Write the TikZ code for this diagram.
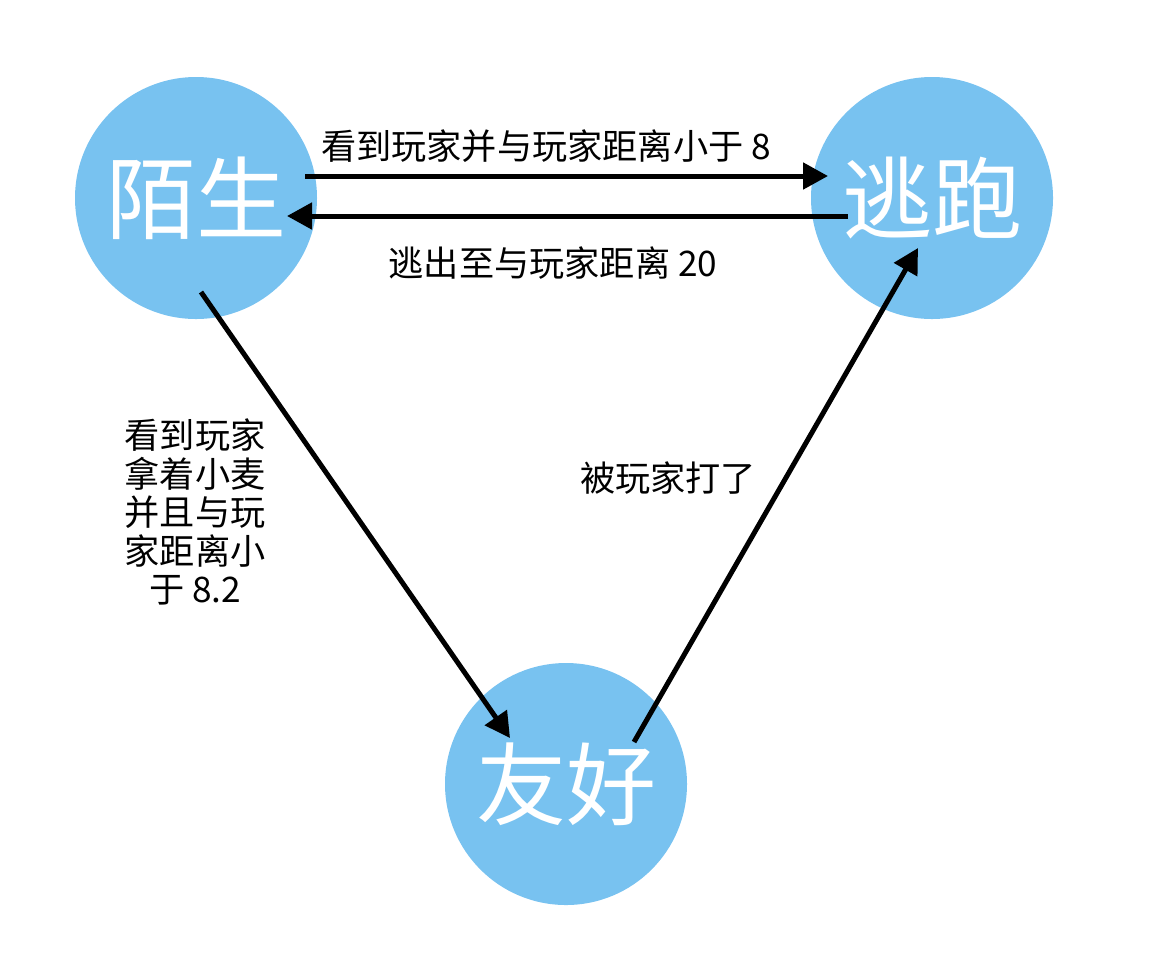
\documentclass[tikz,border=0pt]{standalone}
\usepackage{fontspec}
\setmainfont{Noto Sans CJK SC}
\usetikzlibrary{arrows.meta,calc}
\definecolor{stateblue}{HTML}{78C2F0}
\begin{document}
\begin{tikzpicture}[x=0.5pt,y=-0.5pt,
  state/.style={circle,fill=stateblue,minimum size=121pt,inner sep=0pt,text=white,font=\fontsize{45}{52}\selectfont},
  conn/.style={line width=2.5pt,-{Triangle[length=12.5pt,width=13pt]}},
  lbl/.style={font=\fontsize{17.6}{19.3}\selectfont,align=center,inner sep=0pt}]
\useasboundingbox (0,0) rectangle (1176,966);
\node[state] (strange) at (196,198) {陌生};
\node[state] (flee) at (932,198) {逃跑};
\node[state] (friend) at (566,784) {友好};
\draw[conn] ($(strange.center)+(109,-22)$) -- ($(flee.center)+(-104,-22)$);
\draw[conn] ($(flee.center)+(-84,18)$) -- ($(strange.center)+(91,18)$);
\draw[conn] ($(strange.center)+(5,94)$) -- ($(friend.center)+(-56,-46)$);
\draw[conn] ($(friend.center)+(68,-42)$) -- ($(flee.center)+(-14,50)$);
\node[lbl] (l1) at (546,146) {看到玩家并与玩家距离小于 8};
\node[lbl] (l2) at (553,263) {逃出至与玩家距离 20};
\node[lbl] (l3) at (195,512) {看到玩家\\拿着小麦\\并且与玩\\家距离小\\于 8.2};
\node[lbl] (l4) at (668,478) {被玩家打了};
\end{tikzpicture}
\end{document}
